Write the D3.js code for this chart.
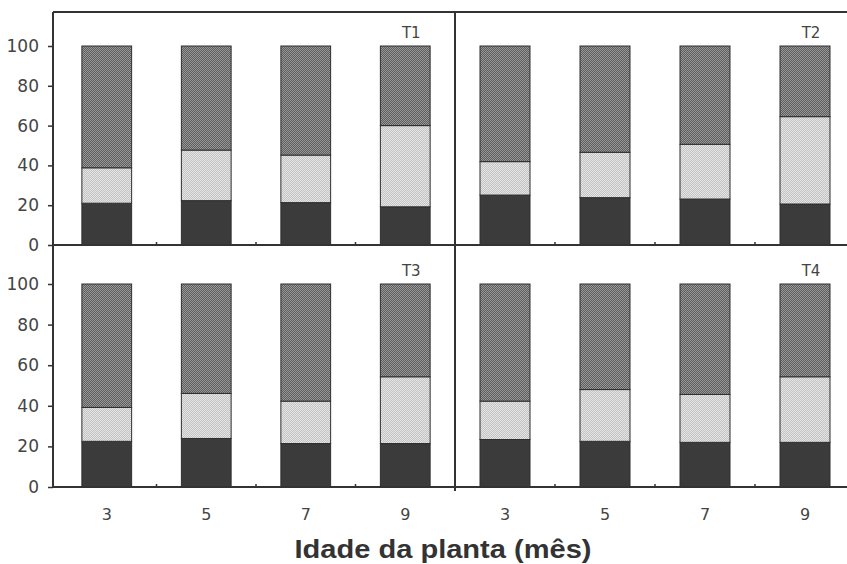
<!DOCTYPE html>
<html>
<head>
<meta charset="utf-8">
<script src="https://cdn.jsdelivr.net/npm/d3@7"></script>
<style>
  body { margin: 0; background: #fff; }
  svg { display: block; }
</style>
</head>
<body>
<div id="chart"></div>
<script>
// Idade da planta - stacked percentages, four panels T1..T4

const ages = ["3", "5", "7", "9"];
const panels = ["T1", "T2", "T3", "T4"];
const yTicks = [0, 20, 40, 60, 80, 100];

// per panel, one value per age: bottom segment, middle segment, top segment
const bottomPart = [
  [21, 22.3, 21.3, 19.2],
  [25.1, 23.8, 23.1, 20.6],
  [22.5, 23.9, 21.4, 21.4],
  [23.4, 22.5, 22, 22]
];
const middlePart = [
  [17.8, 25.4, 23.9, 40.8],
  [16.8, 22.8, 27.5, 43.9],
  [16.7, 22.2, 20.9, 32.9],
  [18.9, 25.5, 23.6, 32.3]
];
const topPart = [
  [61.2, 52.3, 54.8, 40],
  [58.1, 53.4, 49.4, 35.5],
  [60.8, 53.9, 57.7, 45.7],
  [57.7, 52, 54.4, 45.7]
];

const W = 847, H = 564;
const svg = d3.select("#chart").append("svg")
  .attr("width", W).attr("height", H);

const defs = svg.append("defs");
function checker(id, a, b) {
  const p = defs.append("pattern").attr("id", id)
    .attr("patternUnits", "userSpaceOnUse")
    .attr("width", 2).attr("height", 2);
  p.append("rect").attr("width", 2).attr("height", 2).attr("fill", a);
  p.append("rect").attr("width", 1).attr("height", 1).attr("fill", b);
  p.append("rect").attr("x", 1).attr("y", 1).attr("width", 1).attr("height", 1).attr("fill", b);
}
checker("pTop", "#5e5e5e", "#979797");
checker("pMid", "#c2c2c2", "#e6e6e6");

const fills = ["#3b3b3b", "url(#pMid)", "url(#pTop)"];
const axisColor = "#333";
const textColor = "#444";

const colX = [[57, 455], [455, 855]];
const rowY = [
  { top: 12, zero: 245, hundred: 46 },
  { top: 245, zero: 487, hundred: 284 }
];

panels.forEach((name, p) => {
  const col = p % 2, row = Math.floor(p / 2);
  const x = d3.scaleBand().domain(ages).range(colX[col]).paddingInner(0.5).paddingOuter(0.25);
  const y = d3.scaleLinear().domain([0, 100]).range([rowY[row].zero, rowY[row].hundred]);

  const g = svg.append("g");

  const stacks = ages.map((a, i) => {
    const vals = [bottomPart[p][i], middlePart[p][i], topPart[p][i]];
    let acc = 0;
    return vals.map((v, k) => {
      const s = { age: a, k: k, y0: acc, y1: acc + v };
      acc += v;
      return s;
    });
  }).flat();

  g.selectAll("rect.seg").data(stacks).join("rect")
    .attr("class", "seg")
    .attr("x", d => x(d.age))
    .attr("width", x.bandwidth())
    .attr("y", d => y(Math.min(d.y1, 100)))
    .attr("height", d => y(d.y0) - y(Math.min(d.y1, 100)))
    .attr("fill", d => fills[d.k])
    .attr("stroke", "#2e2e2e")
    .attr("stroke-width", 1);

  // panel label
  g.append("text")
    .attr("x", x("9") + x.bandwidth() / 2 + 6)
    .attr("y", y(100) - 8)
    .attr("text-anchor", "middle")
    .attr("font-family", "DejaVu Sans")
    .attr("font-size", 15)
    .attr("fill", textColor)
    .text(name);

  // x axis tick marks between bars
  ages.slice(1).forEach(a => {
    const xx = x(a) - (x.step() - x.bandwidth()) / 2;
    g.append("line")
      .attr("x1", xx).attr("x2", xx)
      .attr("y1", rowY[row].zero - 3).attr("y2", rowY[row].zero)
      .attr("stroke", axisColor).attr("stroke-width", 1.5);
  });

  if (col === 0) {
    const yAxis = g.append("g")
      .attr("transform", `translate(53,0)`)
      .call(d3.axisLeft(y).tickValues(yTicks).tickSize(5).tickPadding(9));
    yAxis.select(".domain").remove();
    yAxis.selectAll(".tick line").attr("stroke", axisColor).attr("stroke-width", 1.5);
    yAxis.selectAll(".tick text")
      .attr("font-family", "DejaVu Sans")
      .attr("font-size", 17)
      .attr("fill", textColor);
  }

  if (row === 1) {
    const bx = g.append("g")
      .attr("transform", `translate(0,${rowY[row].zero + 18})`)
      .call(d3.axisBottom(x).tickSize(0).tickPadding(4));
    bx.select(".domain").remove();
    bx.selectAll(".tick text")
      .attr("font-family", "DejaVu Sans")
      .attr("font-size", 16)
      .attr("fill", textColor);
  }
});

// frame lines
const frame = svg.append("g").attr("stroke", axisColor).attr("stroke-width", 2).attr("fill", "none");
frame.append("line").attr("x1", 53).attr("x2", W).attr("y1", 12).attr("y2", 12);
frame.append("line").attr("x1", 53).attr("x2", W).attr("y1", 245).attr("y2", 245);
frame.append("line").attr("x1", 53).attr("x2", W).attr("y1", 487).attr("y2", 487);
frame.append("line").attr("x1", 53).attr("x2", 53).attr("y1", 12).attr("y2", 487);
frame.append("line").attr("x1", 455).attr("x2", 455).attr("y1", 12).attr("y2", 491);

svg.append("text")
  .attr("x", 443)
  .attr("y", 558)
  .attr("text-anchor", "middle")
  .attr("font-family", "Liberation Sans, Arial, sans-serif")
  .attr("font-weight", "bold")
  .attr("font-size", 25)
  .attr("textLength", 297)
  .attr("lengthAdjust", "spacingAndGlyphs")
  .attr("fill", "#333")
  .text("Idade da planta (mês)");
</script>
</body>
</html>
